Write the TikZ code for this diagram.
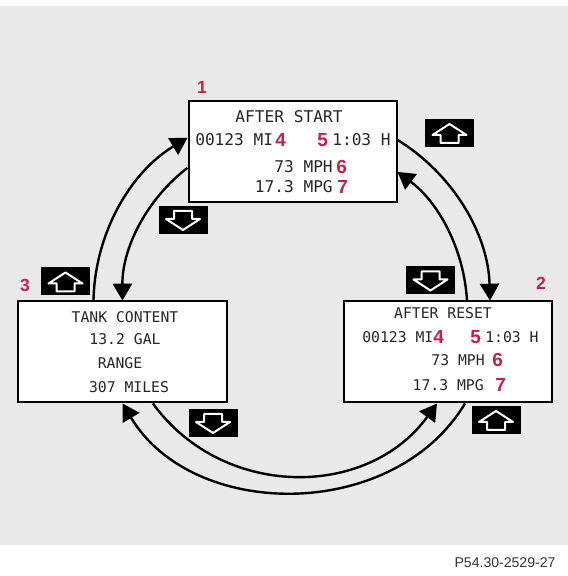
\documentclass[tikz,border=0pt]{standalone}
\usepackage{fontspec}
\setsansfont{Liberation Sans}
\newfontfamily\lcdfont{DejaVu Sans Mono}
\usetikzlibrary{arrows.meta}
\definecolor{bggray}{RGB}{233,233,233}
\definecolor{numred}{RGB}{200,30,72}
\tikzset{
  disp/.style={draw=black, fill=white, line width=0.5mm, minimum width=52mm, minimum height=25.25mm, inner sep=0},
  lcd/.style={font=\lcdfont\fontsize{11.5}{12}\selectfont, text=black!85, inner sep=0},
  lcdsmall/.style={font=\lcdfont\fontsize{10.5}{12}\selectfont, text=black!85, inner sep=0},
  num/.style={font=\sffamily\bfseries\fontsize{13.5}{14}\selectfont, text=numred, inner sep=0},
  tag/.style={font=\sffamily\bfseries\fontsize{12.5}{13}\selectfont, text=numred, inner sep=0},
  cyc/.style={line width=0.6mm, -{Triangle[length=4.2mm, width=4.8mm]}},
  keybox/.style={fill=black, minimum width=12.25mm, minimum height=7mm, inner sep=0},
  keyarrow/.style={draw=white, line width=0.5mm, line join=round},
  upkey/.pic={
    \node[keybox] (-box) {};
    \draw[keyarrow] (0,9) -- (17,-2) -- (9,-2) -- (9,-10) -- (-9,-10) -- (-9,-2) -- (-17,-2) -- cycle;
  },
  downkey/.pic={
    \node[keybox] (-box) {};
    \draw[keyarrow] (0,-10) -- (17,1) -- (9,1) -- (9,9) -- (-9,9) -- (-9,1) -- (-17,1) -- cycle;
  }
}
\begin{document}
\begin{tikzpicture}[x=0.25mm, y=0.25mm]
  \useasboundingbox (0,0) rectangle (568,576);
  \fill[bggray] (0,31) rectangle (568,570);

  %% display 1
  \node[disp] (start) at (292.5,424.5) {};
  \node[tag] (n1) at (202,489) {1};
  \node[lcd] (start-a) at (289,459) {AFTER START};
  \node[lcd, anchor=west] (start-b) at (195,436) {00123 MI};
  \node[num, anchor=west] (start-4) at (275,436) {4};
  \node[num, anchor=west] (start-5) at (317,436) {5};
  \node[lcd, anchor=west] (start-c) at (332,436) {1:03 H};
  \node[lcd, anchor=east] (start-d) at (333,409) {73 MPH};
  \node[num, anchor=west] (start-6) at (336,409) {6};
  \node[lcd, anchor=east] (start-e) at (333,389) {17.3 MPG};
  \node[num, anchor=west] (start-7) at (337,389) {7};

  %% display 2
  \node[disp] (reset) at (448,224) {};
  \node[tag] (n2) at (541,293) {2};
  \node[lcdsmall] (reset-a) at (443,263) {AFTER RESET};
  \node[lcdsmall, anchor=west] (reset-b) at (362,239) {00123 MI};
  \node[num, anchor=west] (reset-4) at (433,239) {4};
  \node[num, anchor=west] (reset-5) at (470,239) {5};
  \node[lcdsmall, anchor=west] (reset-c) at (485,239) {1:03 H};
  \node[lcdsmall, anchor=east] (reset-d) at (485,216) {73 MPH};
  \node[num, anchor=west] (reset-6) at (492,216) {6};
  \node[lcdsmall, anchor=east] (reset-e) at (484,191) {17.3 MPG};
  \node[num, anchor=west] (reset-7) at (495,191) {7};

  %% display 3
  \node[disp] (tank) at (122.5,224) {};
  \node[tag] (n3) at (25,291) {3};
  \node[lcdsmall] (tank-a) at (125,259) {TANK CONTENT};
  \node[lcdsmall] (tank-b) at (125,237) {13.2 GAL};
  \node[lcdsmall] (tank-c) at (120,213) {RANGE};
  \node[lcdsmall] (tank-d) at (129,189) {307 MILES};

  %% keys
  \pic (up1) at (449.5,443) {upkey};
  \pic (down1) at (183,356) {downkey};
  \pic (up3) at (65.5,294.5) {upkey};
  \pic (down2) at (430.5,295.5) {downkey};
  \pic (down3) at (213,153) {downkey};
  \pic (up2) at (496,156) {upkey};

  %% arrows
  \draw[cyc] ([xshift=19mm]tank.north west) to[bend left=29, looseness=0.91] ([yshift=3.4mm]start.west);
  \draw[cyc] ([yshift=-4.1mm]start.west) to[bend right=26.5, looseness=0.9] (tank.north);
  \draw[cyc] ([yshift=2.9mm]start.east) to[bend left=28.4, looseness=0.91] ([xshift=10.5mm]reset.north);
  \draw[cyc] ([xshift=4.75mm]reset.north) to[bend right=25, looseness=0.9] ([yshift=-5.1mm]start.east);
  \draw[cyc] ([xshift=4.25mm]reset.south) to[bend left=59, looseness=1.03] (tank.south);
  \draw[cyc] ([xshift=7.6mm]tank.south) to[bend right=54, looseness=1.07] ([xshift=-2.75mm]reset.south);

  \node[font=\sffamily\fontsize{10}{12}\selectfont, text=black!80] (ref) at (505,13) {P54.30-2529-27};
\end{tikzpicture}
\end{document}
